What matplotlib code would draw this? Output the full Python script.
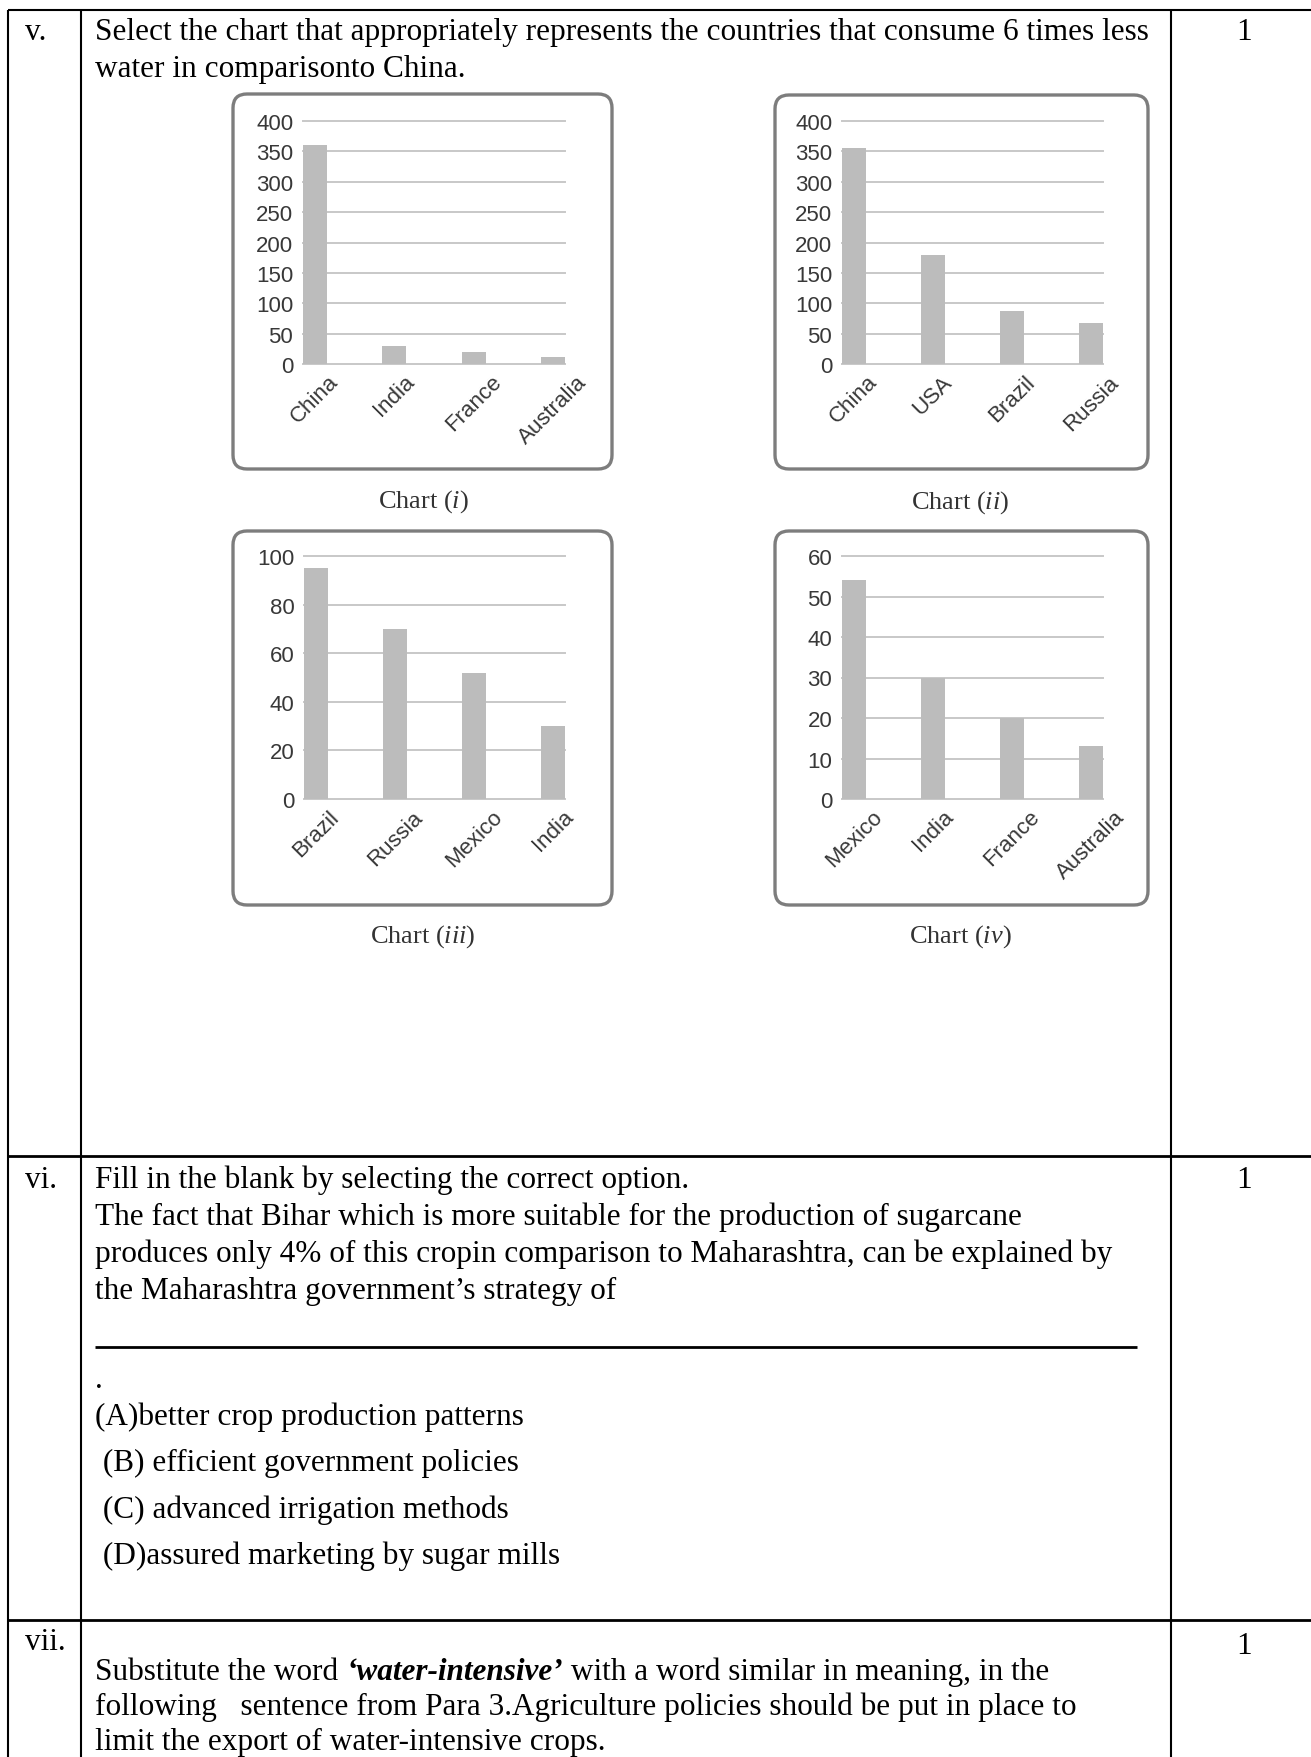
import matplotlib.pyplot as plt
from matplotlib.patches import FancyBboxPatch

plt.rcParams['font.family'] = ['Liberation Serif', 'DejaVu Serif']
plt.rcParams['mathtext.fontset'] = 'custom'
plt.rcParams['mathtext.rm'] = 'Liberation Serif'
plt.rcParams['mathtext.it'] = 'Liberation Serif:italic'

W, H = 1311, 1758

# water use per country, four candidate charts
chart1_countries = ["China", "India", "France", "Australia"]
chart1_values = [360, 30, 20, 12]
chart2_countries = ["China", "USA", "Brazil", "Russia"]
chart2_values = [355, 180, 87, 68]
chart3_countries = ["Brazil", "Russia", "Mexico", "India"]
chart3_values = [95, 70, 52, 30]
chart4_countries = ["Mexico", "India", "France", "Australia"]
chart4_values = [54, 30, 20, 13]

chart1_ticks = [0, 50, 100, 150, 200, 250, 300, 350, 400]
chart2_ticks = [0, 50, 100, 150, 200, 250, 300, 350, 400]
chart3_ticks = [0, 20, 40, 60, 80, 100]
chart4_ticks = [0, 10, 20, 30, 40, 50, 60]
chart_names = ["i", "ii", "iii", "iv"]

question_v = ["Select the chart that appropriately represents the countries that consume 6 times less",
              "water in comparisonto China."]
question_vi = ["Fill in the blank by selecting the correct option.",
               "The fact that Bihar which is more suitable for the production of sugarcane",
               "produces only 4% of this cropin comparison to Maharashtra, can be explained by",
               "the Maharashtra government\u2019s strategy of"]
options_vi = ["(A)better crop production patterns",
              " (B) efficient government policies",
              " (C) advanced irrigation methods",
              " (D)assured marketing by sugar mills"]
question_vii = ["Substitute the word ", "\u2018water-intensive\u2019", " with a word similar in meaning, in the",
                "following   sentence from Para 3.Agriculture policies should be put in place to",
                "limit the export of water-intensive crops."]

FS = 22.5

fig = plt.figure(figsize=(W / 100, H / 100), dpi=100)
bg = fig.add_axes([0, 0, 1, 1])
bg.set_xlim(0, W)
bg.set_ylim(H, 0)
bg.axis('off')


def hline(y, x0=8, x1=W, lw=1.5):
    bg.plot([x0, x1], [y, y], color='black', lw=lw, solid_capstyle='butt')


def vline(x, y0=11, y1=H, lw=1.5):
    bg.plot([x, x], [y0, y1], color='black', lw=lw, solid_capstyle='butt')


# table grid
hline(11)
hline(1157, lw=2)
hline(1621, lw=2)
vline(8)
vline(81)
vline(1171)


def txt(x, y, s, **kw):
    return bg.text(x, y, s, fontsize=kw.pop('fontsize', FS), va='baseline', ha=kw.pop('ha', 'left'), **kw)


# row v
txt(25, 40, "v.")
txt(1244, 40, "1", ha='center')
txt(95, 40, question_v[0])
txt(95, 77, question_v[1])

# row vi
txt(25, 1188, "vi.")
txt(1244, 1188, "1", ha='center')
for i, line in enumerate(question_vi):
    txt(95, 1188 + i * 37, line)
hline(1348, x0=95, x1=1137, lw=2)
txt(95, 1388, ".")
for i, line in enumerate(options_vi):
    txt(95, 1425 + i * 46.5, line)

# row vii
txt(25, 1650, "vii.")
txt(1244, 1654, "1", ha='center')

renderer = fig.canvas.get_renderer()


def width_of(s, **kw):
    # advance width including any trailing space
    t = bg.text(0, 0, s + "x", fontsize=FS, **kw)
    t2 = bg.text(0, 0, "x", fontsize=FS, **kw)
    w = t.get_window_extent(renderer).width - t2.get_window_extent(renderer).width
    t.remove()
    t2.remove()
    return w


x = 95
txt(x, 1680, question_vii[0])
x += width_of(question_vii[0])
txt(x, 1680, question_vii[1], fontweight='bold', style='italic')
x += width_of(question_vii[1], fontweight='bold', style='italic')
txt(x, 1680, question_vii[2])
txt(95, 1715, question_vii[3])
txt(95, 1750, question_vii[4])

# chart panels: frame box, plot area, caption position (pixels)
boxes = [(233, 95, 612, 470), (775, 96, 1148, 470), (233, 532, 612, 906), (775, 532, 1148, 906)]
plots = [(303, 122, 565, 365), (842, 122, 1103, 365), (304, 557, 565, 800), (842, 557, 1103, 800)]
captions = [(423, 502), (960, 503), (423, 937), (960, 937)]
countries = [chart1_countries, chart2_countries, chart3_countries, chart4_countries]
values = [chart1_values, chart2_values, chart3_values, chart4_values]
ticks = [chart1_ticks, chart2_ticks, chart3_ticks, chart4_ticks]

for k in range(4):
    bx0, by0, bx1, by1 = boxes[k]
    bg.add_patch(FancyBboxPatch((bx0, by0), bx1 - bx0, by1 - by0,
                                boxstyle="round,pad=0,rounding_size=14",
                                fc='white', ec='#7d7d7d', lw=2.4))
    cx, cy = captions[k]
    bg.text(cx, cy, r"Chart ($\mathit{%s}$)" % chart_names[k], ha='center', va='center',
            fontsize=19, color='#333333')

    px0, py0, px1, py1 = plots[k]
    ax = fig.add_axes([px0 / W, 1 - py1 / H, (px1 - px0) / W, (py1 - py0) / H])
    ax.set_facecolor('none')
    ax.bar(range(4), values[k], width=0.3, color='#bcbcbc', zorder=2)
    ax.set_xlim(-0.15, 3.15)
    ax.set_ylim(0, ticks[k][-1])
    ax.set_yticks(ticks[k])
    ax.set_yticklabels([str(t) for t in ticks[k]], fontfamily='Liberation Sans', fontsize=16, color='#383838')
    ax.set_xticks(range(4))
    ax.set_xticklabels(countries[k], rotation=45, ha='center', va='top',
                       fontfamily='Liberation Sans', fontsize=16, color='#383838')
    ax.tick_params(axis='y', length=0, pad=7)
    ax.tick_params(axis='x', length=0, pad=5)
    ax.yaxis.grid(True, color='#c8c8c8', lw=1.4)
    ax.set_axisbelow(True)
    for gl in ax.get_ygridlines():
        gl.set_clip_on(False)
    for sp in ax.spines.values():
        sp.set_visible(False)

fig.savefig('out.png', dpi=100)
